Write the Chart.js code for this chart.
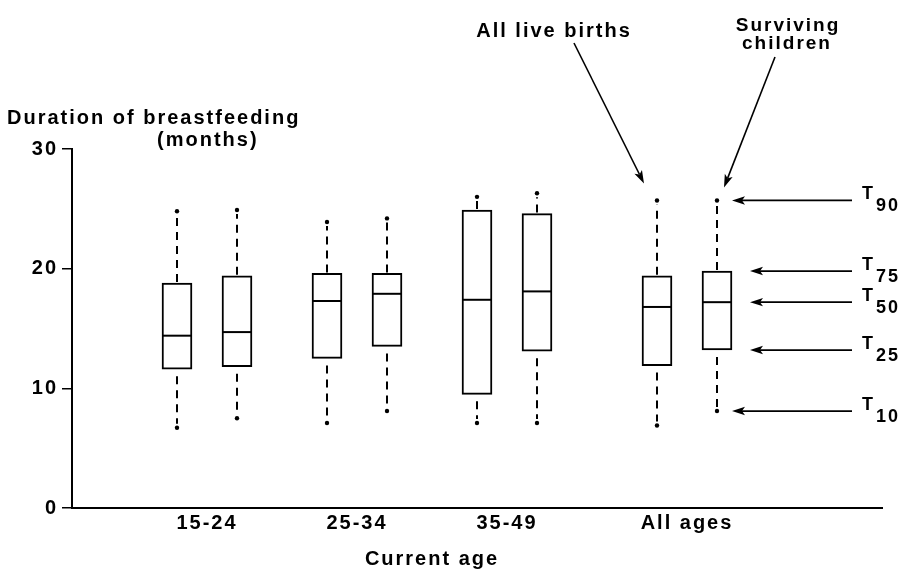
<!DOCTYPE html>
<html>
<head>
<meta charset="utf-8">
<script src="https://cdn.jsdelivr.net/npm/chart.js@4.4.0/dist/chart.umd.min.js"></script>
<style>
  html, body { margin: 0; padding: 0; background: #fff; }
  #wrap { width: 903px; height: 574px; position: relative; }
</style>
</head>
<body>
<div id="wrap"><canvas id="c"></canvas></div>
<script>
// Duration of breastfeeding (months) by current age of mother.
// Percentiles T10, T25, T50, T75, T90 for each age group.
const categories = ['15-24', '25-34', '35-49', 'All ages'];
const seriesNames = ['All live births', 'Surviving children'];

const liveT10 = [6.7, 7.1, 7.1, 6.9];
const liveT25 = [11.6, 12.5, 9.5, 11.9];
const liveT50 = [14.4, 17.3, 17.4, 16.8];
const liveT75 = [18.8, 19.6, 24.9, 19.4];
const liveT90 = [24.8, 23.9, 26.0, 25.7];

const survT10 = [7.5, 8.1, 7.1, 8.1];
const survT25 = [11.8, 13.5, 13.1, 13.2];
const survT50 = [14.7, 17.9, 18.1, 17.2];
const survT75 = [19.4, 19.6, 24.6, 19.8];
const survT90 = [24.9, 24.2, 26.3, 25.7];

const yTicks = [0, 10, 20, 30];
const percentileNames = ['90', '75', '50', '25', '10'];

const yTitle = ['Duration of breastfeeding', '(months)'];
const xTitle = 'Current age';

// ---- layout helpers (not data) ----
const FONT = 'Liberation Sans, Arial, sans-serif';
const SPACING = '2px';
// the summary group sits a little apart from the age groups
const groupPos = categories.map((c, i) => i + (i === categories.length - 1 ? 0.2 : 0));
const pairOffset = 0.2;

function seriesStats(t10, t25, t50, t75, t90) {
  return { t10, t25, t50, t75, t90 };
}
const stats = [
  seriesStats(liveT10, liveT25, liveT50, liveT75, liveT90),
  seriesStats(survT10, survT25, survT50, survT75, survT90)
];

const datasets = stats.map((s, k) => ({
  label: seriesNames[k],
  data: categories.map((c, i) => ({
    x: groupPos[i] + (k === 0 ? -pairOffset : pairOffset),
    y: [s.t25[i], s.t75[i]]
  })),
  backgroundColor: '#fff',
  borderColor: '#000',
  borderWidth: 2,
  borderSkipped: false,
  barThickness: 30,
  grouped: false
}));

// keep the wide letter spacing on every pass
const spacingPlugin = {
  id: 'spacing',
  beforeUpdate(chart) { chart.ctx.letterSpacing = SPACING; },
  beforeLayout(chart) { chart.ctx.letterSpacing = SPACING; },
  beforeDraw(chart) { chart.ctx.letterSpacing = SPACING; }
};

// medians, dashed whiskers and end points
const boxParts = {
  id: 'boxParts',
  afterDatasetsDraw(chart) {
    const ctx = chart.ctx;
    const y = chart.scales.y;
    ctx.save();
    ctx.strokeStyle = '#000';
    ctx.fillStyle = '#000';
    chart.data.datasets.forEach((ds, k) => {
      const meta = chart.getDatasetMeta(k);
      const s = stats[k];
      meta.data.forEach((el, i) => {
        const x = el.x, half = el.width / 2;
        // median
        ctx.setLineDash([]);
        ctx.lineWidth = 2;
        const ym = y.getPixelForValue(s.t50[i]);
        ctx.beginPath();
        ctx.moveTo(x - half + 1, ym);
        ctx.lineTo(x + half - 1, ym);
        ctx.stroke();
        // whiskers
        const yTop = y.getPixelForValue(s.t75[i]);
        const yHi = y.getPixelForValue(s.t90[i]);
        const yBot = y.getPixelForValue(s.t25[i]);
        const yLo = y.getPixelForValue(s.t10[i]);
        ctx.setLineDash([8, 6]);
        ctx.lineWidth = 2;
        ctx.beginPath();
        ctx.moveTo(x, yTop - 1);
        ctx.lineTo(x, yHi + 4);
        ctx.stroke();
        ctx.lineDashOffset = -6;
        ctx.beginPath();
        ctx.moveTo(x, yBot + 1);
        ctx.lineTo(x, yLo - 4);
        ctx.stroke();
        ctx.lineDashOffset = 0;
        ctx.setLineDash([]);
        [yHi, yLo].forEach(py => {
          ctx.beginPath();
          ctx.arc(x, py, 2.2, 0, Math.PI * 2);
          ctx.fill();
        });
      });
    });
    ctx.restore();
  }
};

function arrow(ctx, x1, y1, x2, y2, lw) {
  const ang = Math.atan2(y2 - y1, x2 - x1);
  const len = 13, hw = 4.2;
  const bx = x2 - Math.cos(ang) * len, by = y2 - Math.sin(ang) * len;
  ctx.lineWidth = lw;
  ctx.beginPath();
  ctx.moveTo(x1, y1);
  ctx.lineTo(bx + Math.cos(ang) * 3, by + Math.sin(ang) * 3);
  ctx.stroke();
  ctx.beginPath();
  ctx.moveTo(x2, y2);
  ctx.lineTo(bx - Math.sin(ang) * hw, by + Math.cos(ang) * hw);
  ctx.lineTo(bx + Math.cos(ang) * 3, by + Math.sin(ang) * 3);
  ctx.lineTo(bx + Math.sin(ang) * hw, by - Math.cos(ang) * hw);
  ctx.closePath();
  ctx.fill();
}

// titles, callouts and percentile key
const annotations = {
  id: 'annotations',
  afterDraw(chart) {
    const ctx = chart.ctx;
    const x = chart.scales.x, y = chart.scales.y;
    const area = chart.chartArea;
    ctx.save();
    ctx.letterSpacing = SPACING;
    ctx.fillStyle = '#000';
    ctx.strokeStyle = '#000';
    ctx.textBaseline = 'alphabetic';

    // y-axis title
    ctx.font = 'bold 20px ' + FONT;
    ctx.textAlign = 'left';
    ctx.fillText(yTitle[0], 7, 124);
    ctx.fillText(yTitle[1], 157, 146);

    // x-axis title, centred between first and last group
    ctx.textAlign = 'center';
    const cx = x.getPixelForValue((groupPos[0] + Math.floor(groupPos[groupPos.length - 1])) / 2);
    ctx.fillText(xTitle, cx, 565);

    // callouts for the two series, on the summary group
    const last = categories.length - 1;
    const liveEl = chart.getDatasetMeta(0).data[last];
    const survEl = chart.getDatasetMeta(1).data[last];
    const yLive = y.getPixelForValue(liveT90[last]);
    const ySurv = y.getPixelForValue(survT90[last]);

    ctx.font = 'bold 20px ' + FONT;
    ctx.fillText(seriesNames[0], liveEl.x - 103, 37);
    arrow(ctx, liveEl.x - 83, 43, liveEl.x - 13, yLive - 17, 1.6);

    ctx.font = 'bold 19px ' + FONT;
    const sw = seriesNames[1].split(' ');
    ctx.fillText(sw[0], survEl.x + 71, 31);
    ctx.fillText(sw[1], survEl.x + 70, 49);
    arrow(ctx, survEl.x + 58, 57, survEl.x + 7, ySurv - 13, 1.6);

    // percentile key pointing at the surviving-children box
    const keyVals = [survT90[last], survT75[last], survT50[last], survT25[last], survT10[last]];
    const xEnd = area.right - 30;
    keyVals.forEach((v, j) => {
      const py = y.getPixelForValue(v);
      const isWhisker = (j === 0 || j === keyVals.length - 1);
      const tip = isWhisker ? survEl.x + 15 : survEl.x + survEl.width / 2 + 18;
      arrow(ctx, xEnd, py, tip, py, 1.8);
      ctx.textAlign = 'left';
      ctx.font = 'bold 18px ' + FONT;
      ctx.fillText('T', xEnd + 10, py - 1);
      ctx.fillText(percentileNames[j], xEnd + 24, py + 11);
    });
    ctx.restore();
  }
};

const tickFont = { family: FONT, size: 20, weight: 'bold' };

new Chart(document.getElementById('c'), {
  type: 'bar',
  data: { datasets },
  options: {
    responsive: true,
    maintainAspectRatio: false,
    animation: false,
    layout: { padding: { left: 0, right: 21, top: 149, bottom: 0 } },
    plugins: { legend: { display: false }, tooltip: { enabled: false } },
    scales: {
      x: {
        type: 'linear',
        offset: false,
        min: -0.9,
        max: 4.5,
        grid: { display: false, drawTicks: false },
        border: { display: true, color: '#000', width: 2 },
        ticks: {
          font: tickFont,
          color: '#000',
          padding: 3,
          autoSkip: false,
          maxRotation: 0,
          callback: (v, i) => categories[i]
        },
        afterBuildTicks: s => { s.ticks = groupPos.map(v => ({ value: v })); },
        afterFit: s => { s.height = 66; }
      },
      y: {
        min: 0,
        max: 30,
        grid: { drawOnChartArea: false, drawTicks: true, tickLength: 10, color: '#000', lineWidth: 1.5 },
        border: { display: true, color: '#000', width: 2 },
        ticks: { font: tickFont, color: '#000', padding: 4 },
        afterBuildTicks: s => { s.ticks = yTicks.map(v => ({ value: v })); },
        afterFit: s => { s.width = 72; }
      }
    }
  },
  plugins: [spacingPlugin, boxParts, annotations]
});
</script>
</body>
</html>
